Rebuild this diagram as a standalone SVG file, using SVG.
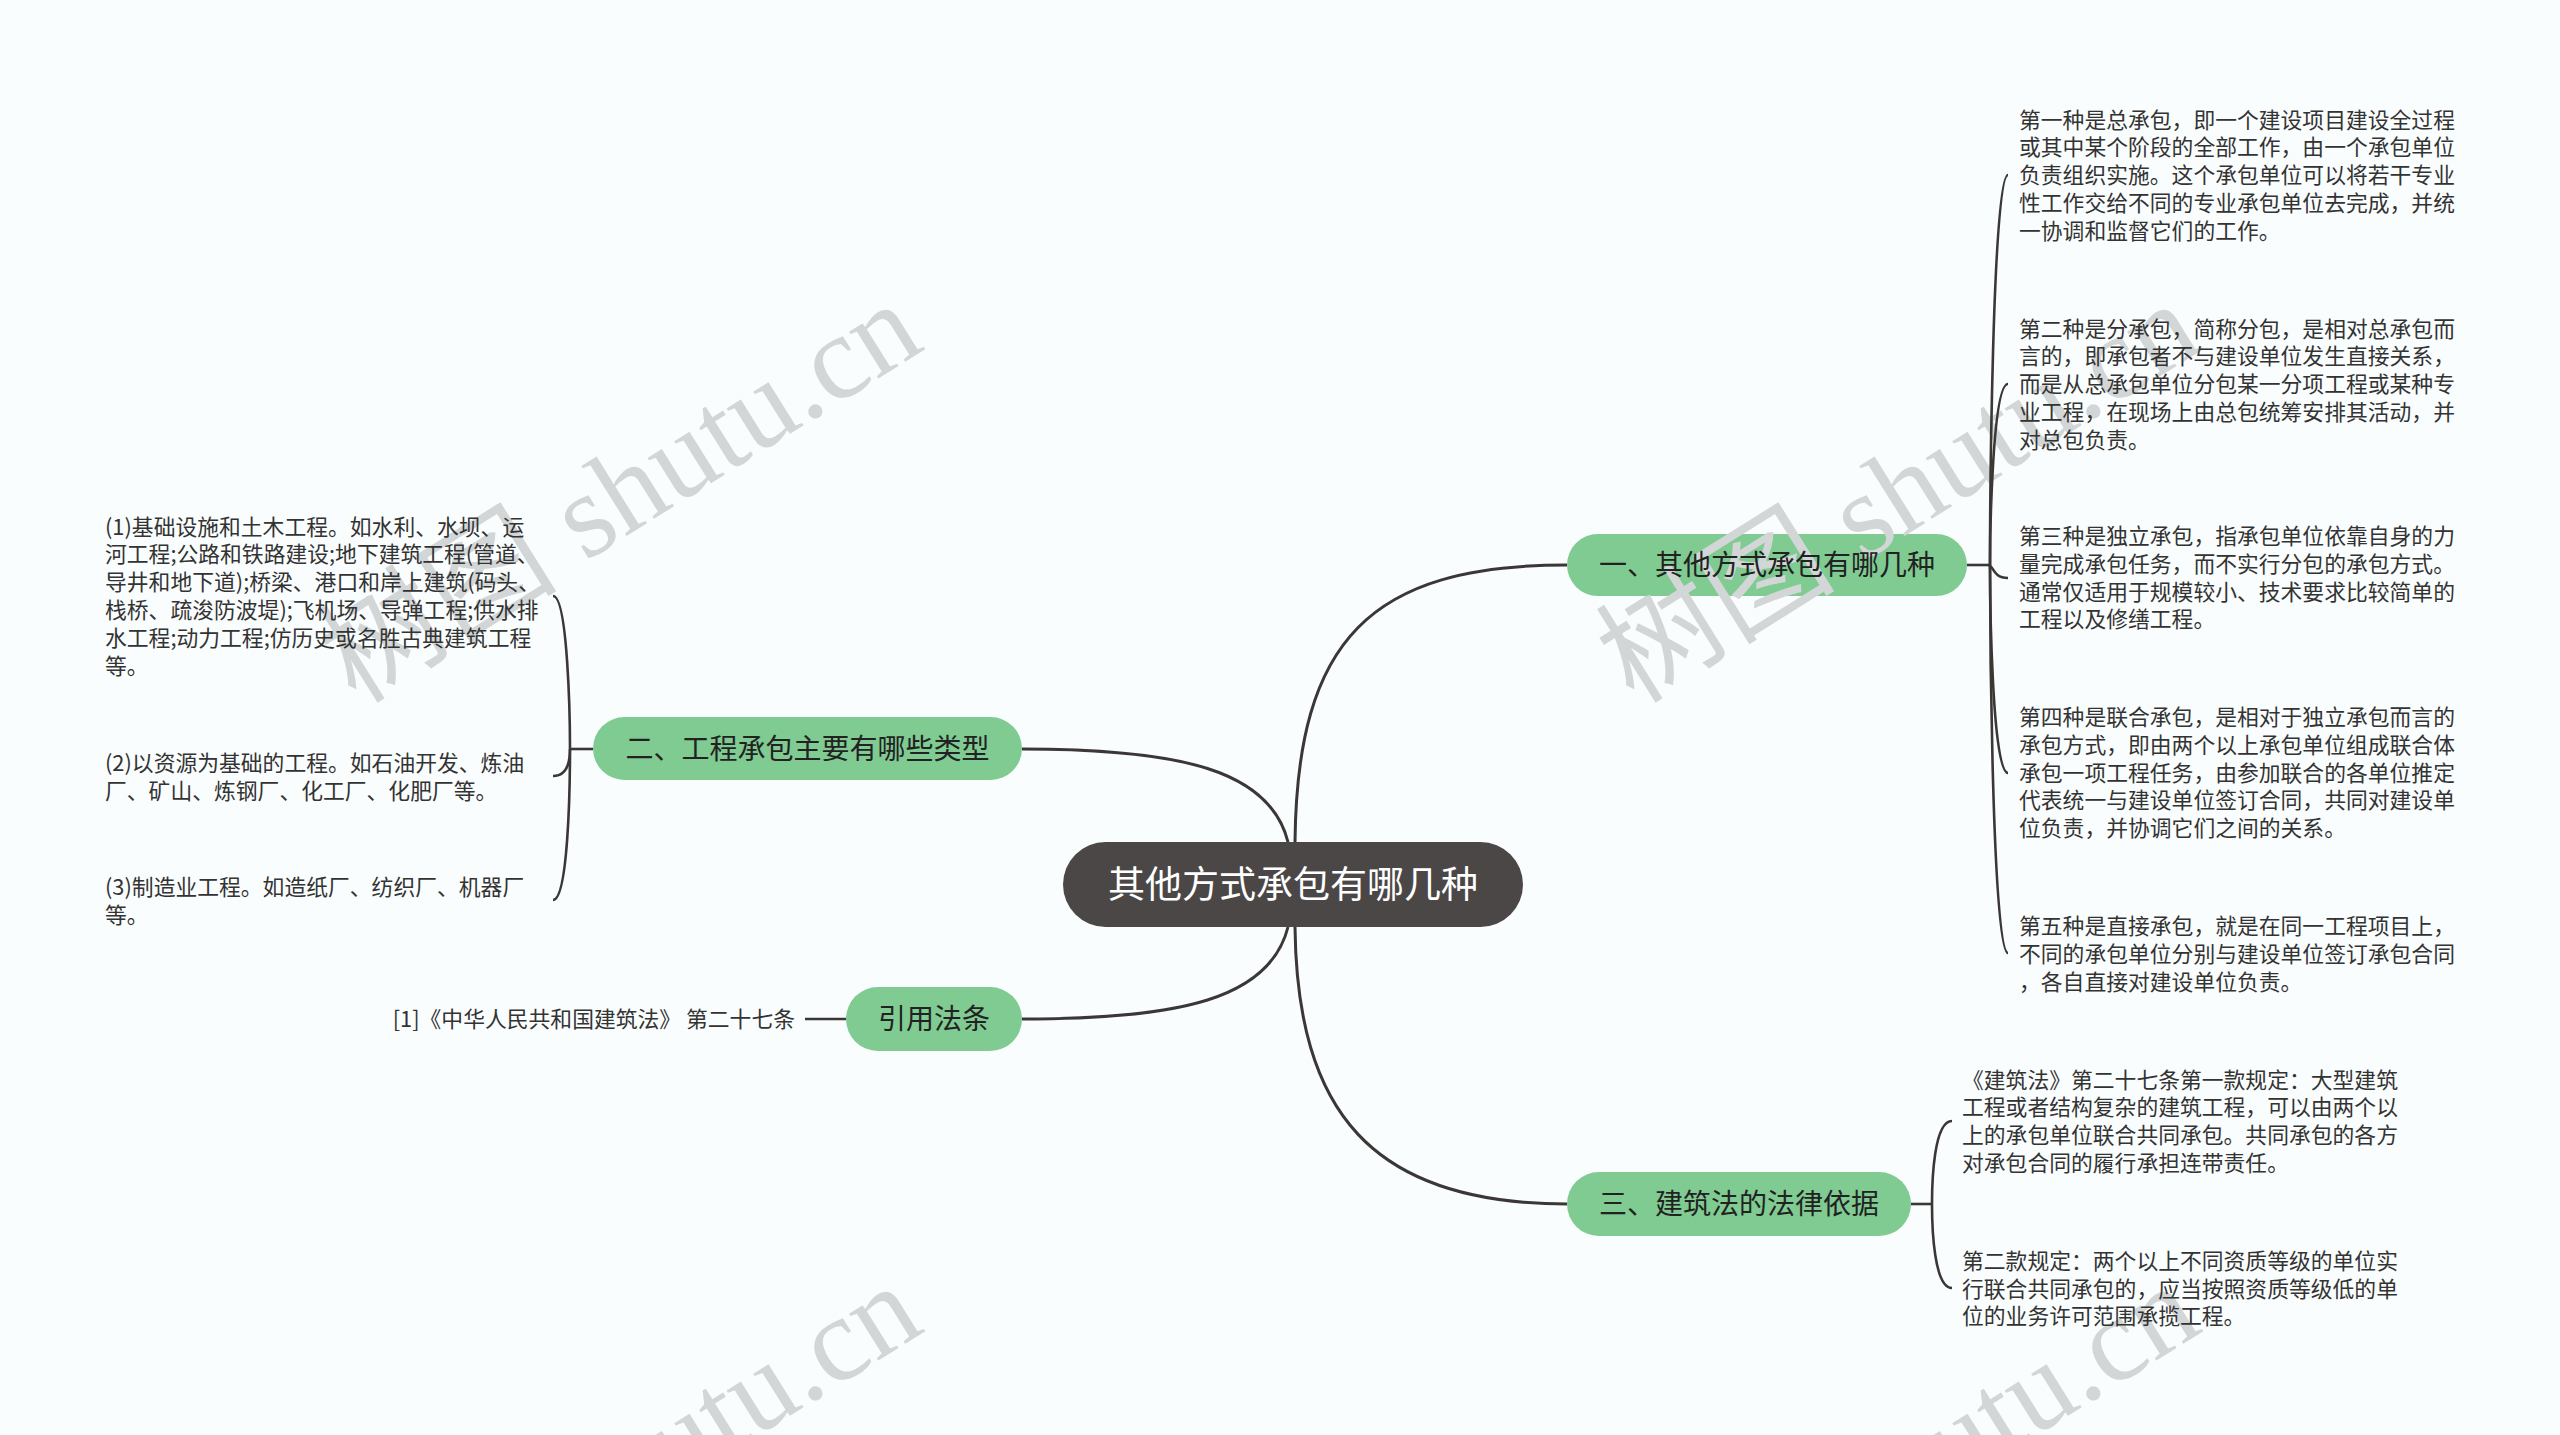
<svg xmlns="http://www.w3.org/2000/svg" xmlns:xlink="http://www.w3.org/1999/xlink" width="2560" height="1435" viewBox="0 0 2560 1435">
<style>
.bg{fill:#fafdfd}
.wm{font-family:"Liberation Serif","Noto Sans CJK SC",serif;font-size:120px;fill:#d2d6d6}
.main{fill:none;stroke:#3b3737;stroke-width:3}
.sub{fill:none;stroke:#3b3737;stroke-width:2.6}
.root{fill:#4b4747}
.green{fill:#7fcb92}
.rt{font-family:"Noto Sans CJK SC","Noto Sans",sans-serif;font-size:37px;fill:#ffffff;text-anchor:middle}
.gt{font-family:"Noto Sans CJK SC","Noto Sans",sans-serif;font-size:28px;fill:#222222;text-anchor:middle}
.ct{font-family:"Noto Sans CJK SC","Noto Sans",sans-serif;font-size:21.8px;fill:#333333}
</style>
<defs>
<text id="wm" class="wm" transform="rotate(-32)">树图 shutu.cn</text>
<clipPath id="clipN1"><rect x="1567" y="534" width="400" height="62" rx="31"/></clipPath>
</defs>
<rect class="bg" x="0" y="0" width="2560" height="1435"/>
<g id="watermarks">
<use xlink:href="#wm" href="#wm" transform="translate(356,705)"/>
<use xlink:href="#wm" href="#wm" transform="translate(1634,705)"/>
<use xlink:href="#wm" href="#wm" transform="translate(356,1687)"/>
<use xlink:href="#wm" href="#wm" transform="translate(1634,1687)"/>
</g>
<g id="connectors">
<path class="main" d="M1295 842 C1297 640 1370 565 1567 565"/>
<path class="main" d="M1288 842 C1270 770 1180 749 1022 749"/>
<path class="main" d="M1288 927 C1270 999 1180 1019 1022 1019"/>
<path class="main" d="M1295 927 C1297 1110 1370 1204 1567 1204"/>
<path class="sub" d="M1967 565 L1990 565"/>
<path class="sub" d="M1990 565 C1990 520 1992 175 2008 175"/>
<path class="sub" d="M1990 565 C1990 540 1992 384 2008 384"/>
<path class="sub" d="M1988 565 C1994 565 1992 578 2008 578"/>
<path class="sub" d="M1990 565 C1990 600 1992 773 2008 773"/>
<path class="sub" d="M1990 565 C1990 620 1992 953 2008 953"/>
<path class="sub" d="M1911 1204 L1932 1204"/>
<path class="sub" d="M1932 1204 C1932 1180 1934 1121 1952 1121"/>
<path class="sub" d="M1932 1204 C1932 1228 1934 1288 1952 1288"/>
<path class="sub" d="M593 749 L570 749"/>
<path class="sub" d="M570 749 C570 720 568 596 553 596"/>
<path class="sub" d="M570 749 C570 760 568 776 553 776"/>
<path class="sub" d="M570 749 C570 790 568 900 553 900"/>
<path class="sub" d="M846 1019 L805 1019"/>
</g>
<g id="root">
<rect class="root" x="1063" y="842" width="460" height="85" rx="42.5"/>
<text class="rt" x="1293" y="898">其他方式承包有哪几种</text>
</g>
<g id="n1">
<rect class="green" x="1567" y="534" width="400" height="62" rx="31"/>
<g clip-path="url(#clipN1)"><use xlink:href="#wm" href="#wm" transform="translate(1634,705)"/></g>
<text class="gt" x="1767" y="575">一、其他方式承包有哪几种</text>
</g>
<g id="n2">
<rect class="green" x="593" y="717" width="429" height="63" rx="31.5"/>
<text class="gt" x="807.5" y="759">二、工程承包主要有哪些类型</text>
</g>
<g id="n3">
<rect class="green" x="846" y="987" width="176" height="64" rx="32"/>
<text class="gt" x="934" y="1029">引用法条</text>
</g>
<g id="n4">
<rect class="green" x="1567" y="1172" width="344" height="64" rx="32"/>
<text class="gt" x="1739" y="1214">三、建筑法的法律依据</text>
</g>
<g id="n1c1">
<text class="ct" x="2019" y="127.5"><tspan x="2019">第一种是总承包，即一个建设项目建设全过程</tspan><tspan x="2019" dy="27.8">或其中某个阶段的全部工作，由一个承包单位</tspan><tspan x="2019" dy="27.8">负责组织实施。这个承包单位可以将若干专业</tspan><tspan x="2019" dy="27.8">性工作交给不同的专业承包单位去完成，并统</tspan><tspan x="2019" dy="27.8">一协调和监督它们的工作。</tspan></text>
</g>
<g id="n1c2">
<text class="ct" x="2019" y="336.5"><tspan x="2019">第二种是分承包，简称分包，是相对总承包而</tspan><tspan x="2019" dy="27.8">言的，即承包者不与建设单位发生直接关系，</tspan><tspan x="2019" dy="27.8">而是从总承包单位分包某一分项工程或某种专</tspan><tspan x="2019" dy="27.8">业工程，在现场上由总包统筹安排其活动，并</tspan><tspan x="2019" dy="27.8">对总包负责。</tspan></text>
</g>
<g id="n1c3">
<text class="ct" x="2019" y="544"><tspan x="2019">第三种是独立承包，指承包单位依靠自身的力</tspan><tspan x="2019" dy="27.8">量完成承包任务，而不实行分包的承包方式。</tspan><tspan x="2019" dy="27.8">通常仅适用于规模较小、技术要求比较简单的</tspan><tspan x="2019" dy="27.8">工程以及修缮工程。</tspan></text>
</g>
<g id="n1c4">
<text class="ct" x="2019" y="725"><tspan x="2019">第四种是联合承包，是相对于独立承包而言的</tspan><tspan x="2019" dy="27.8">承包方式，即由两个以上承包单位组成联合体</tspan><tspan x="2019" dy="27.8">承包一项工程任务，由参加联合的各单位推定</tspan><tspan x="2019" dy="27.8">代表统一与建设单位签订合同，共同对建设单</tspan><tspan x="2019" dy="27.8">位负责，并协调它们之间的关系。</tspan></text>
</g>
<g id="n1c5">
<text class="ct" x="2019" y="934"><tspan x="2019">第五种是直接承包，就是在同一工程项目上，</tspan><tspan x="2019" dy="27.8">不同的承包单位分别与建设单位签订承包合同</tspan><tspan x="2019" dy="27.8">，各自直接对建设单位负责。</tspan></text>
</g>
<g id="n4c1">
<text class="ct" x="1962" y="1087.5"><tspan x="1962">《建筑法》第二十七条第一款规定：大型建筑</tspan><tspan x="1962" dy="27.8">工程或者结构复杂的建筑工程，可以由两个以</tspan><tspan x="1962" dy="27.8">上的承包单位联合共同承包。共同承包的各方</tspan><tspan x="1962" dy="27.8">对承包合同的履行承担连带责任。</tspan></text>
</g>
<g id="n4c2">
<text class="ct" x="1962" y="1268.7"><tspan x="1962">第二款规定：两个以上不同资质等级的单位实</tspan><tspan x="1962" dy="27.8">行联合共同承包的，应当按照资质等级低的单</tspan><tspan x="1962" dy="27.8">位的业务许可范围承揽工程。</tspan></text>
</g>
<g id="n2c1">
<text class="ct" x="105" y="534.6"><tspan x="105">(1)基础设施和土木工程。如水利、水坝、运</tspan><tspan x="105" dy="27.8">河工程;公路和铁路建设;地下建筑工程(管道、</tspan><tspan x="105" dy="27.8">导井和地下道);桥梁、港口和岸上建筑(码头、</tspan><tspan x="105" dy="27.8">栈桥、疏浚防波堤);飞机场、导弹工程;供水排</tspan><tspan x="105" dy="27.8">水工程;动力工程;仿历史或名胜古典建筑工程</tspan><tspan x="105" dy="27.8">等。</tspan></text>
</g>
<g id="n2c2">
<text class="ct" x="105" y="770.8"><tspan x="105">(2)以资源为基础的工程。如石油开发、炼油</tspan><tspan x="105" dy="27.8">厂、矿山、炼钢厂、化工厂、化肥厂等。</tspan></text>
</g>
<g id="n2c3">
<text class="ct" x="105" y="894.8"><tspan x="105">(3)制造业工程。如造纸厂、纺织厂、机器厂</tspan><tspan x="105" dy="27.8">等。</tspan></text>
</g>
<g id="n3c1">
<text class="ct" x="795" y="1027" text-anchor="end" font-size="22">[1]《中华人民共和国建筑法》 第二十七条</text>
</g>
</svg>
